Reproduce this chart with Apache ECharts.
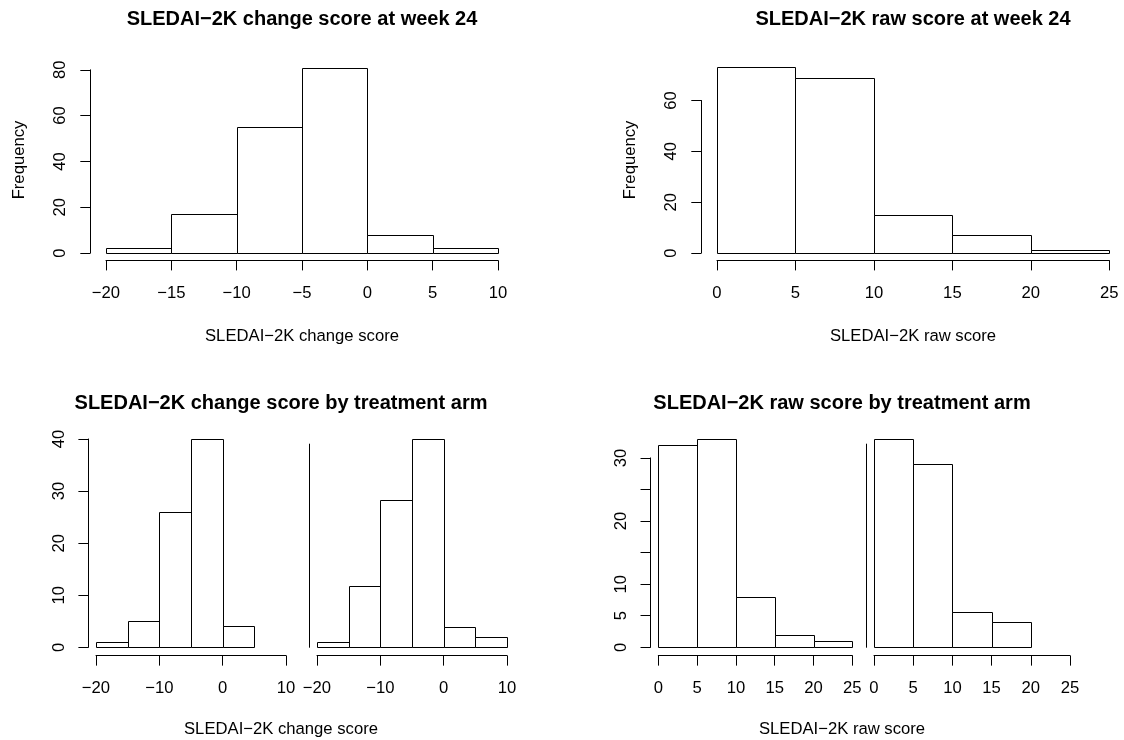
<!DOCTYPE html>
<html>
<head>
<meta charset="utf-8">
<script src="https://cdn.jsdelivr.net/npm/echarts@6/dist/echarts.min.js"></script>
<style>
  html, body { margin: 0; padding: 0; background: #ffffff; }
  #chart { width: 1124px; height: 740px; }
</style>
</head>
<body>
<div id="chart"></div>
<script>
// SLEDAI-2K histograms, 5-point bins
const changeBreaks = [-20, -15, -10, -5, 0, 5, 10];
const changeCounts = [2, 17, 55, 81, 8, 2];
const rawBreaks = [0, 5, 10, 15, 20, 25];
const rawCounts = [73, 69, 15, 7, 1];

// same scores split by treatment arm
const changeArm1Counts = [1, 5, 26, 40, 4];
const changeArm2Counts = [1, 12, 29, 41, 4, 2];
const rawArm1Counts = [32, 33, 8, 2, 1];
const rawArm2Counts = [41, 36, 7, 5];

// axis ticks and labels
const changeTicks = [-20, -15, -10, -5, 0, 5, 10];
const rawTicks = [0, 5, 10, 15, 20, 25];
const changeFreqTicks = [0, 20, 40, 60, 80];
const rawFreqTicks = [0, 20, 40, 60];
const armChangeTicks = [-20, -10, 0, 10];
const armChangeFreqTicks = [0, 10, 20, 30, 40];
const armRawTicks = [0, 5, 10, 15, 20, 25];
const armRawFreqTicks = [0, 5, 10, 15, 20, 25, 30];
const armRawFreqLabels = [0, 5, 10, 20, 30];

const titleChange = 'SLEDAI\u22122K change score at week 24';
const titleRaw = 'SLEDAI\u22122K raw score at week 24';
const titleChangeArm = 'SLEDAI\u22122K change score by treatment arm';
const titleRawArm = 'SLEDAI\u22122K raw score by treatment arm';
const xLabelChange = 'SLEDAI\u22122K change score';
const xLabelRaw = 'SLEDAI\u22122K raw score';
const yLabel = 'Frequency';

const FONT = '"Liberation Sans", Arial, Helvetica, sans-serif';
const AXIS_FS = 16.67;

function toBins(breaks, counts) {
  return counts.map((c, i) => [breaks[i], breaks[i + 1], c]);
}
function fmtNum(v) {
  return v < 0 ? '\u2212' + Math.abs(v) : String(v);
}

// panel layout (pixels) and scales
const panels = [
  { grid: { left: 106, top: 69.8, width: 392, height: 183.2 },
    x: { min: -20, max: 10, interval: 5, ticks: changeTicks },
    y: { max: 80, interval: 20, ticks: changeFreqTicks, labels: changeFreqTicks },
    bins: toBins(changeBreaks, changeCounts) },
  { grid: { left: 717, top: 100.5, width: 392.3, height: 152.5 },
    x: { min: 0, max: 25, interval: 5, ticks: rawTicks },
    y: { max: 60, interval: 20, ticks: rawFreqTicks, labels: rawFreqTicks },
    bins: toBins(rawBreaks, rawCounts) },
  { grid: { left: 96, top: 439, width: 190, height: 208.3 },
    x: { min: -20, max: 10, interval: 10, ticks: armChangeTicks },
    y: { max: 40, interval: 10, ticks: armChangeFreqTicks, labels: armChangeFreqTicks },
    bins: toBins(changeBreaks, changeArm1Counts) },
  { grid: { left: 317, top: 444.1, width: 190, height: 203.2 },
    x: { min: -20, max: 10, interval: 10, ticks: armChangeTicks },
    y: { max: 40, interval: 10, ticks: null, labels: null },
    bins: toBins(changeBreaks, changeArm2Counts) },
  { grid: { left: 658.3, top: 457.9, width: 194, height: 189.4 },
    x: { min: 0, max: 25, interval: 5, ticks: armRawTicks },
    y: { max: 30, interval: 5, ticks: armRawFreqTicks, labels: armRawFreqLabels },
    bins: toBins(rawBreaks, rawArm1Counts) },
  { grid: { left: 874, top: 444.1, width: 196, height: 203.2 },
    x: { min: 0, max: 25, interval: 5, ticks: armRawTicks },
    y: { max: 40, interval: 10, ticks: null, labels: null },
    bins: toBins(rawBreaks, rawArm2Counts) }
];

const grids = [], xAxes = [], yAxes = [], series = [];

panels.forEach((p, i) => {
  grids.push(Object.assign({ containLabel: false, outerBoundsMode: 'none' }, p.grid));
  const xOff = 0.04 * (i < 2 ? 185.5 : 208.3);
  const yOff = 0.04 * p.grid.width;
  xAxes.push({
    type: 'value', gridIndex: i, position: 'bottom',
    min: p.x.min, max: p.x.max, interval: p.x.interval,
    offset: xOff,
    splitLine: { show: false },
    axisLine: { show: true, onZero: false, lineStyle: { color: '#000', width: 1 } },
    axisTick: { show: true, inside: false, length: 10, customValues: p.x.ticks,
                lineStyle: { color: '#000', width: 1 } },
    axisLabel: { show: true, margin: 24, customValues: p.x.ticks,
                 fontFamily: FONT, fontSize: AXIS_FS, color: '#000', formatter: fmtNum }
  });
  const hasTicks = !!p.y.ticks;
  const yAxis = {
    type: 'value', gridIndex: i, position: 'left',
    min: 0, max: p.y.max, interval: p.y.interval,
    offset: yOff,
    splitLine: { show: false },
    axisLine: { show: true, onZero: false, lineStyle: { color: '#000', width: 1 } },
    axisTick: { show: hasTicks, inside: false, length: 10,
                lineStyle: { color: '#000', width: 1 } },
    axisLabel: { show: hasTicks, margin: 21, rotate: 90,
                 fontFamily: FONT, fontSize: AXIS_FS, color: '#000', formatter: fmtNum }
  };
  if (hasTicks) {
    yAxis.axisTick.customValues = p.y.ticks;
    yAxis.axisLabel.customValues = p.y.labels;
  }
  yAxes.push(yAxis);
  series.push({
    type: 'custom', xAxisIndex: i, yAxisIndex: i, clip: false, silent: true,
    data: p.bins,
    renderItem: function (params, api) {
      const a = api.coord([api.value(0), 0]);
      const b = api.coord([api.value(1), api.value(2)]);
      const x0 = Math.round(a[0]) + 0.5, x1 = Math.round(b[0]) + 0.5;
      const y0 = Math.round(a[1]) + 0.5, y1 = Math.round(b[1]) + 0.5;
      return {
        type: 'rect',
        shape: { x: x0, y: y1, width: x1 - x0, height: y0 - y1 },
        style: { fill: '#ffffff', stroke: '#000000', lineWidth: 1 }
      };
    }
  });
});

function txt(text, x, y, opts) {
  opts = opts || {};
  return {
    type: 'text', x: x, y: y, rotation: opts.rotation || 0, silent: true,
    style: {
      text: text, fill: '#000',
      font: (opts.bold ? 'bold ' : '') + (opts.size || AXIS_FS) + 'px ' + FONT,
      textAlign: 'center', textVerticalAlign: 'middle'
    }
  };
}

const graphics = [
  txt(titleChange, 302, 19, { bold: true, size: 20 }),
  txt(titleRaw, 913, 19, { bold: true, size: 20 }),
  txt(titleChangeArm, 281, 403, { bold: true, size: 20 }),
  txt(titleRawArm, 842, 403, { bold: true, size: 20 }),
  txt(xLabelChange, 302, 336),
  txt(xLabelRaw, 913, 336),
  txt(xLabelChange, 281, 729),
  txt(xLabelRaw, 842, 729),
  txt(yLabel, 19.6, 160, { rotation: Math.PI / 2 }),
  txt(yLabel, 630, 160, { rotation: Math.PI / 2 })
];

const chart = echarts.init(document.getElementById('chart'), null, { renderer: 'canvas' });
chart.setOption({
  animation: false,
  backgroundColor: '#ffffff',
  grid: grids,
  xAxis: xAxes,
  yAxis: yAxes,
  series: series,
  graphic: graphics
});
</script>
</body>
</html>
